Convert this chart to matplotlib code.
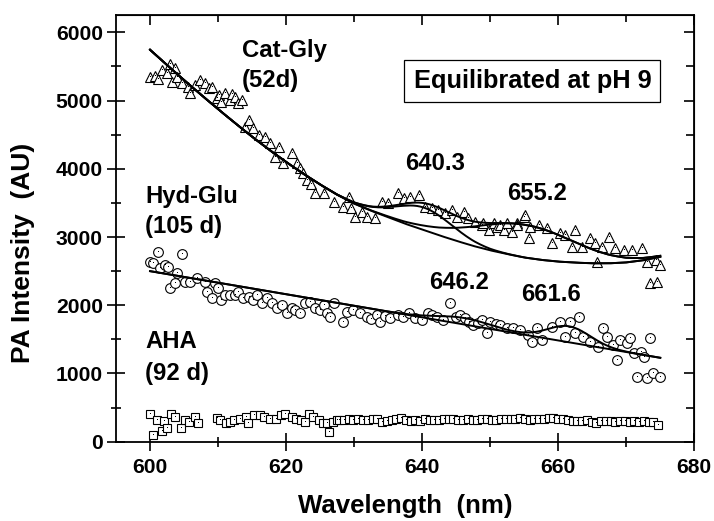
import numpy as np
import matplotlib.pyplot as plt

plt.rcParams['font.family'] = ['Liberation Sans', 'DejaVu Sans']
plt.rcParams['font.weight'] = 'bold'

# Cat-Gly (52 d) photoacoustic spectrum
catgly_nm = [600.0, 600.7, 601.2, 601.7, 602.5, 602.9, 603.2, 603.7, 604.0, 604.7,
             605.6, 605.9, 606.6, 607.4, 608.1, 608.6, 609.1, 609.8, 610.2, 610.5,
             611.0, 611.8, 612.0, 612.5, 613.0, 613.5, 614.0, 614.5, 615.2, 616.0,
             616.9, 617.6, 618.4, 618.9, 619.6, 620.8, 621.6, 622.1, 622.5, 623.1,
             623.6, 624.3, 625.5, 627.0, 628.4, 629.2, 629.6, 630.1, 631.1, 631.9,
             633.1, 634.1, 635.0, 636.5, 637.3, 638.2, 639.5, 640.4, 641.4, 642.4,
             643.4, 644.4, 645.1, 646.1, 646.8, 647.8, 648.8, 649.0, 649.8, 650.5,
             651.0, 651.5, 652.0, 652.5, 653.2, 653.9, 654.0, 654.9, 655.1, 655.7,
             655.9, 657.1, 658.3, 659.1, 660.3, 661.0, 662.0, 662.5, 663.5, 664.7,
             665.4, 665.7, 666.4, 667.4, 668.4, 669.6, 670.8, 672.3, 673.0, 673.5,
             674.3, 674.5, 675.0]
catgly_pa = [5343, 5362, 5314, 5450, 5402, 5538, 5279, 5475, 5352, 5255,
             5205, 5108, 5230, 5304, 5255, 5180, 5205, 5035, 5080, 4985,
             5108, 5010, 5100, 5059, 4960, 5010, 4619, 4717, 4595, 4497,
             4472, 4375, 4179, 4325, 4082, 4229, 4082, 4008, 3935, 3837,
             3780, 3642, 3642, 3519, 3446, 3592, 3422, 3299, 3372, 3299,
             3276, 3519, 3495, 3642, 3569, 3592, 3617, 3446, 3422, 3397,
             3349, 3397, 3299, 3372, 3276, 3226, 3177, 3202, 3104, 3202,
             3153, 3177, 3104, 3202, 3079, 3202, 3177, 3299, 3324, 2982,
             3153, 3177, 3129, 2909, 3055, 3031, 2860, 3104, 2860, 2982,
             2909, 2639, 2860, 3006, 2836, 2811, 2811, 2836, 2639, 2323,
             2664, 2346, 2591]

# Hyd-Glu (105 d)
hydglu_nm = [600.0, 600.5, 601.2, 601.5, 602.2, 602.7, 603.0, 603.7, 603.9, 604.7,
             605.1, 605.9, 606.9, 608.1, 608.3, 609.1, 609.6, 610.0, 610.5, 611.0,
             611.8, 612.5, 613.0, 613.7, 614.5, 615.2, 615.7, 616.4, 617.2, 617.9,
             618.7, 619.4, 620.1, 620.8, 621.3, 622.1, 622.8, 623.5, 624.2, 625.0,
             625.5, 626.0, 626.5, 627.0, 628.4, 628.9, 629.9, 630.9, 631.9, 632.5,
             633.3, 633.8, 634.6, 635.3, 636.5, 637.2, 638.0, 639.0, 640.0, 640.9,
             641.5, 642.2, 643.0, 644.1, 644.9, 645.6, 646.3, 646.9, 647.5, 648.2,
             648.8, 649.5, 650.0, 650.8, 651.5, 652.5, 653.4, 654.4, 655.6, 656.1,
             656.9, 657.6, 659.1, 660.3, 661.0, 661.8, 662.5, 663.0, 663.7, 664.7,
             665.9, 666.6, 667.1, 668.1, 668.6, 669.1, 670.1, 670.6, 671.1, 671.6,
             672.1, 672.6, 673.0, 673.5, 674.0, 675.0]
hydglu_pa = [2639, 2616, 2786, 2542, 2591, 2566, 2249, 2323, 2469, 2748,
             2346, 2346, 2396, 2346, 2199, 2103, 2323, 2249, 2078, 2151,
             2151, 2151, 2199, 2103, 2126, 2078, 2151, 2029, 2103, 2029,
             1956, 2004, 1883, 1956, 1931, 1883, 2029, 2053, 1960, 1931,
             2004, 1880, 1833, 2029, 1759, 1900, 1931, 1883, 1833, 1800,
             1858, 1759, 1840, 1809, 1858, 1830, 1883, 1809, 1790, 1883,
             1850, 1833, 1780, 2029, 1833, 1860, 1809, 1760, 1711, 1740,
             1784, 1589, 1759, 1720, 1711, 1662, 1662, 1638, 1565, 1466,
             1662, 1491, 1686, 1759, 1540, 1759, 1589, 1833, 1540, 1466,
             1393, 1662, 1540, 1418, 1198, 1491, 1442, 1516, 1296, 953,
             1320, 1246, 929, 1516, 1003, 953]

# AHA (92 d)
aha_nm = [600.0, 600.5, 601.0, 601.7, 602.0, 602.5, 603.1, 603.7, 604.5, 605.1,
          605.7, 606.6, 607.0, 609.8, 610.3, 611.2, 611.8, 612.4, 613.2, 614.1,
          614.4, 615.3, 616.1, 616.7, 617.6, 618.5, 619.3, 619.9, 620.8, 621.4,
          622.2, 622.8, 623.4, 623.9, 624.8, 625.4, 626.0, 626.3, 626.9, 627.5,
          627.8, 628.5, 629.2, 629.9, 630.6, 631.3, 632.0, 632.7, 633.4, 634.1,
          634.8, 635.5, 636.2, 636.9, 637.6, 638.3, 639.0, 639.7, 640.4, 641.1,
          641.8, 642.5, 643.2, 643.9, 644.6, 645.3, 646.0, 646.7, 647.4, 648.1,
          648.8, 649.5, 650.2, 650.9, 651.6, 652.3, 653.0, 653.7, 654.4, 655.1,
          655.8, 656.5, 657.2, 657.9, 658.6, 659.3, 660.0, 660.7, 661.4, 662.1,
          662.8, 663.5, 664.2, 664.9, 665.6, 666.3, 667.0, 667.7, 668.4, 669.1,
          669.8, 670.5, 671.2, 671.9, 672.6, 673.3, 674.0, 674.7]
aha_pa = [413, 97, 316, 160, 306, 194, 413, 364, 194, 316,
          291, 364, 267, 354, 316, 267, 291, 316, 340, 364,
          267, 388, 388, 364, 340, 340, 388, 413, 364, 340,
          316, 291, 413, 364, 316, 267, 267, 146, 291, 316,
          325, 316, 330, 320, 335, 316, 325, 340, 330, 291,
          300, 320, 330, 345, 325, 310, 320, 300, 330, 316,
          325, 320, 335, 340, 330, 320, 316, 330, 325, 320,
          330, 335, 325, 320, 330, 340, 335, 330, 345, 330,
          325, 335, 340, 330, 345, 350, 340, 330, 320, 306,
          310, 300, 316, 291, 267, 300, 310, 306, 291, 300,
          310, 291, 300, 285, 300, 291, 291, 243]

# fitted background for Cat-Gly and the two Gaussian bands
catgly_bg_nm = [600, 602.5, 605, 607.5, 610, 612.5, 615, 617.5, 620, 622.5,
                625, 627.5, 630, 632.5, 635, 637.5, 640, 642.5, 645, 647.5,
                650, 652.5, 655, 657.5, 660, 662.5, 665, 667.5, 670, 672.5, 675]
catgly_bg = [5745, 5520, 5300, 5085, 4875, 4670, 4470, 4280, 4100, 3930,
             3770, 3620, 3490, 3385, 3290, 3195, 3110, 3025, 2945, 2870,
             2805, 2750, 2700, 2665, 2640, 2625, 2615, 2615, 2628, 2660, 2710]
catgly_peaks = [640.3, 655.2]
catgly_amp = [330, 480]
catgly_width = [4.2, 7.5]

# Hyd-Glu: linear background plus two bands
hydglu_bg_nm = [600, 675]
hydglu_bg = [2500, 1230]
hydglu_peaks = [646.2, 661.6]
hydglu_amp = [95, 235]
hydglu_width = [4.0, 3.1]

fig = plt.figure(figsize=(7.14, 5.21), dpi=100)
ax = fig.add_axes([0.1625, 0.1522, 0.8099, 0.8184])

mk = dict(linestyle='none', mfc='white', mec='black', mew=0.8, zorder=2)
ax.plot(catgly_nm, catgly_pa, marker='^', ms=7.2, **mk)
ax.plot(hydglu_nm, hydglu_pa, marker='o', ms=7, **mk)
ax.plot(aha_nm, aha_pa, marker='s', ms=5.5, **mk)
for xs, ys in [(catgly_nm, catgly_pa), (hydglu_nm, hydglu_pa), (aha_nm, aha_pa)]:
    ax.plot(xs, ys, ',', color='black', zorder=2.5)


def band(x, c, a, w):
    return a * np.exp(-(x - c) ** 2 / (2 * w ** 2))


xf = np.linspace(600, 675, 301)
bg1 = np.interp(xf, catgly_bg_nm, catgly_bg)
g1 = band(xf, catgly_peaks[0], catgly_amp[0], catgly_width[0])
g2 = band(xf, catgly_peaks[1], catgly_amp[1], catgly_width[1])
lw = 1.4
for curve in [bg1, bg1 + g1, bg1 + g2, bg1 + g1 + g2]:
    ax.plot(xf, curve, color='black', lw=lw, zorder=3)

bg2 = np.interp(xf, hydglu_bg_nm, hydglu_bg)
g3 = band(xf, hydglu_peaks[0], hydglu_amp[0], hydglu_width[0])
g4 = band(xf, hydglu_peaks[1], hydglu_amp[1], hydglu_width[1])
ax.plot(xf, bg2, color='black', lw=lw, zorder=3)
ax.plot(xf, bg2 + g3 + g4, color='black', lw=lw, zorder=3)

ax.set_xlim(595, 680)
ax.set_ylim(0, 6250)
ax.set_xticks([600, 620, 640, 660, 680])
ax.set_xticks([610, 630, 650, 670], minor=True)
ax.set_yticks(range(0, 6001, 1000))
ax.set_yticks(range(500, 6001, 1000), minor=True)
ax.tick_params(which='major', direction='inout', length=13, width=1.2,
               labelsize=15.2, pad=3)
ax.tick_params(which='minor', direction='inout', length=7, width=1.2)
ax.tick_params(axis='x', which='major', pad=5)
for s in ax.spines.values():
    s.set_linewidth(1.3)

top = ax.secondary_xaxis('top')
top.set_xticks([600, 620, 640, 660, 680])
top.set_xticks([610, 630, 650, 670], minor=True)
top.tick_params(which='both', direction='in', labeltop=False, width=1.2)
top.tick_params(which='major', length=7)
top.tick_params(which='minor', length=5)
right = ax.secondary_yaxis('right')
right.set_yticks(range(0, 6001, 1000))
right.set_yticks(range(500, 6001, 1000), minor=True)
right.tick_params(which='both', direction='in', labelright=False, width=1.2)
right.tick_params(which='major', length=7)
right.tick_params(which='minor', length=6)

ax.set_xlabel('Wavelength  (nm)', fontsize=18.6, fontweight='bold')
ax.set_ylabel('PA Intensity  (AU)', fontsize=19, fontweight='bold')
ax.xaxis.set_label_coords(0.5, -0.122)
ax.yaxis.set_label_coords(-0.140, 0.4425)

fs = 17.2
ax.text(613.5, 5736, 'Cat-Gly', fontsize=fs, fontweight='bold', va='center')
ax.text(613.5, 5289, '(52d)', fontsize=fs, fontweight='bold', va='center')
ax.text(599.3, 3600, 'Hyd-Glu', fontsize=fs, fontweight='bold', va='center')
ax.text(599.3, 3160, '(105 d)', fontsize=fs, fontweight='bold', va='center')
ax.text(599.3, 1476, 'AHA', fontsize=fs, fontweight='bold', va='center')
ax.text(599.3, 1000, '(92 d)', fontsize=fs, fontweight='bold', va='center')
ax.text(641.9, 4085, '640.3', fontsize=fs, fontweight='bold', ha='center', va='center')
ax.text(656.9, 3645, '655.2', fontsize=fs, fontweight='bold', ha='center', va='center')
ax.text(645.4, 2334, '646.2', fontsize=fs, fontweight='bold', ha='center', va='center')
ax.text(659.0, 2165, '661.6', fontsize=fs, fontweight='bold', ha='center', va='center')
ax.text(656.2, 5292, 'Equilibrated at pH 9', fontsize=18.3, fontweight='bold',
        ha='center', va='center',
        bbox=dict(boxstyle='square,pad=0.36', fc='white', ec='black', lw=0.9))

fig.savefig('out.png', dpi=100)
